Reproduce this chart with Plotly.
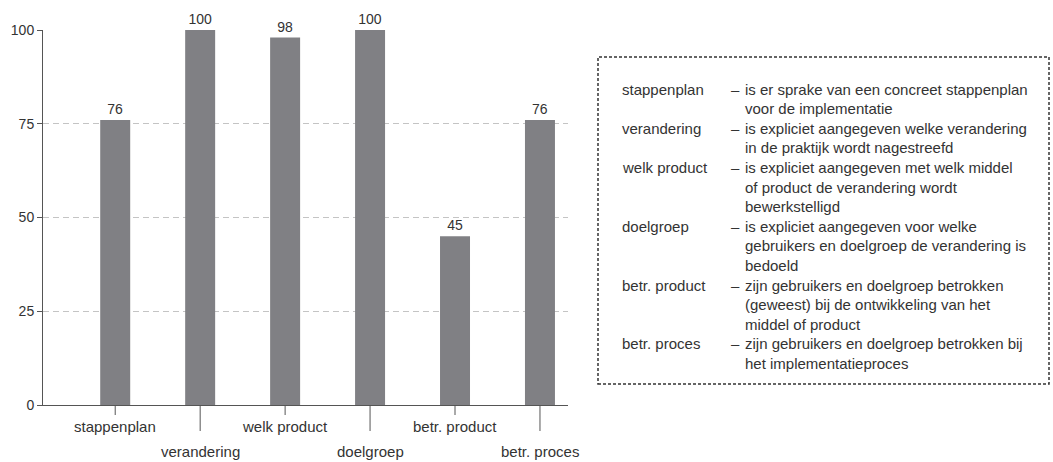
import plotly.graph_objects as go

# Scores per criterion (percent)
categories = ["stappenplan", "verandering", "welk product", "doelgroep", "betr. product", "betr. proces"]
values = [76, 100, 98, 100, 45, 76]
y_ticks = [0, 25, 50, 75, 100]

# Explanation of each criterion, one list entry per printed line
legend_terms = ["stappenplan", "verandering", "welk product", "doelgroep", "betr. product", "betr. proces"]
legend_texts = [
    ["is er sprake van een concreet stappenplan", "voor de implementatie"],
    ["is expliciet aangegeven welke verandering", "in de praktijk wordt nagestreefd"],
    ["is expliciet aangegeven met welk middel", "of product de verandering wordt", "bewerkstelligd"],
    ["is expliciet aangegeven voor welke", "gebruikers en doelgroep de verandering is", "bedoeld"],
    ["zijn gebruikers en doelgroep betrokken", "(geweest) bij de ontwikkeling van het", "middel of product"],
    ["zijn gebruikers en doelgroep betrokken bij", "het implementatieproces"],
]

FONT = "Liberation Sans, Arial, sans-serif"
TEXT = "#333333"
BAR = "#808084"

W, H = 1053, 462
L, R, T, B = 43, 485, 30, 57
PW, PH = W - L - R, H - T - B


def px(x):
    return (x - L) / PW


def py(y):
    return (H - B - y) / PH


x_idx = list(range(len(categories)))

fig = go.Figure()
fig.add_trace(go.Bar(
    x=x_idx, y=values, width=0.353, marker=dict(color=BAR, line=dict(width=0)),
    text=values, textposition="outside", cliponaxis=False,
    textfont=dict(family=FONT, size=14, color=TEXT),
    hoverinfo="skip",
))

shapes = []
annotations = []

# Category ticks and staggered labels below the axis
for i, name in enumerate(categories):
    long_tick = i % 2 == 1
    shapes.append(dict(
        type="line", xref="x", yref="paper", x0=i, x1=i,
        y0=0, y1=-(26 if long_tick else 10) / PH,
        line=dict(color="#555555", width=1),
    ))
    annotations.append(dict(
        x=i, xref="x", yref="paper", y=py(451 if long_tick else 426),
        text=name, showarrow=False, yanchor="middle", xanchor="center",
        font=dict(family=FONT, size=15, color=TEXT),
    ))

# Dotted frame around the explanation
shapes.append(dict(
    type="rect", xref="paper", yref="paper",
    x0=px(598), x1=px(1049), y0=py(384), y1=py(57),
    line=dict(color="#333333", width=1.5, dash="3px,2px"),
))

line_y = 89
step = 19.6
for term, lines in zip(legend_terms, legend_texts):
    annotations.append(dict(
        x=px(620), y=py(line_y), xref="paper", yref="paper", text=term,
        showarrow=False, xanchor="left", yanchor="middle",
        font=dict(family=FONT, size=15, color=TEXT),
    ))
    annotations.append(dict(
        x=px(729), y=py(line_y), xref="paper", yref="paper", text="–",
        showarrow=False, xanchor="left", yanchor="middle",
        font=dict(family=FONT, size=15, color=TEXT),
    ))
    for ln in lines:
        annotations.append(dict(
            x=px(743), y=py(line_y), xref="paper", yref="paper", text=ln,
            showarrow=False, xanchor="left", yanchor="middle",
            font=dict(family=FONT, size=15, color=TEXT),
        ))
        line_y += step

fig.update_layout(
    width=W, height=H,
    margin=dict(l=L, r=R, t=T, b=B, pad=0),
    paper_bgcolor="white", plot_bgcolor="white",
    showlegend=False,
    shapes=shapes, annotations=annotations,
    xaxis=dict(
        range=[-0.85, 5.33], showticklabels=False, ticks="",
        showgrid=False, zeroline=False,
        showline=True, linecolor="#555555", linewidth=1,
    ),
    yaxis=dict(
        range=[0, 100], tickvals=y_ticks, ticks="outside", ticklen=5,
        tickcolor="#555555", showline=True, linecolor="#555555", linewidth=1,
        showgrid=True, gridcolor="#c4c4c4", griddash="6px,4px", gridwidth=1,
        zeroline=False,
        tickfont=dict(family=FONT, size=14, color=TEXT),
    ),
)

fig.write_html("out.html")
